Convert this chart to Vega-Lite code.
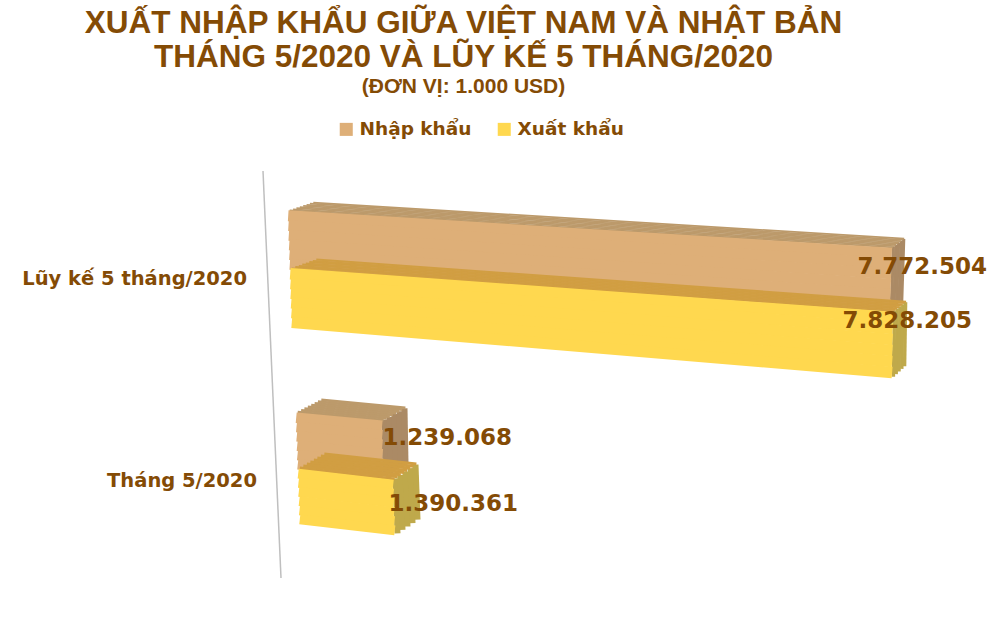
{
  "$schema": "https://vega.github.io/schema/vega-lite/v6.json",
  "width": 991,
  "height": 641,
  "padding": 0,
  "autosize": "none",
  "background": "white",
  "title": {
    "text": ["XUẤT NHẬP KHẨU GIỮA VIỆT NAM VÀ NHẬT BẢN", "THÁNG 5/2020 VÀ LŨY KẾ 5 THÁNG/2020"],
    "subtitle": "(ĐƠN VỊ: 1.000 USD)",
    "anchor": "middle",
    "frame": "group",
    "dx": -32,
    "dy": 101,
    "font": "Liberation Sans",
    "fontSize": 31.5,
    "fontWeight": "bold",
    "color": "#844B05",
    "lineHeight": 34,
    "subtitleFont": "Liberation Sans",
    "subtitleFontSize": 21,
    "subtitleFontWeight": "bold",
    "subtitleColor": "#844B05"
  },
  "data": {
    "values": [
      {"period": "Lũy kế 5 tháng/2020", "series": "Nhập khẩu", "value": 7772504},
      {"period": "Lũy kế 5 tháng/2020", "series": "Xuất khẩu", "value": 7828205},
      {"period": "Tháng 5/2020", "series": "Nhập khẩu", "value": 1239068},
      {"period": "Tháng 5/2020", "series": "Xuất khẩu", "value": 1390361}
    ]
  },
  "resolve": {"scale": {"x": "independent", "y": "independent"}},
  "config": {
    "view": {"stroke": null},
    "locale": {"number": {"decimal": ",", "thousands": ".", "grouping": [3], "currency": ["", ""]}}
  },
  "layer": [
    {
      "transform": [{"filter": "datum.period == 'Tháng 5/2020' && datum.series == 'Nhập khẩu'"}],
      "mark": {"type": "rule", "stroke": "#BFBFBF", "strokeWidth": 1.5},
      "encoding": {
        "x": {"datum": 0, "type": "quantitative", "scale": {"domain": [0, 1], "range": [263, 281], "nice": false}, "axis": null},
        "x2": {"datum": 1},
        "y": {"datum": 0, "type": "quantitative", "scale": {"domain": [0, 1], "range": [171, 578], "nice": false}, "axis": null},
        "y2": {"datum": 1}
      }
    },
    {
      "mark": {"type": "square", "opacity": 0},
      "encoding": {
        "fill": {
          "field": "series",
          "type": "nominal",
          "scale": {"domain": ["Nhập khẩu", "Xuất khẩu"], "range": ["#DEAF78", "#FFD84F"]},
          "legend": {
            "title": null,
            "orient": "none",
            "legendX": 337,
            "legendY": 120,
            "direction": "horizontal",
            "symbolType": "square",
            "symbolSize": 170,
            "symbolOpacity": 1,
            "symbolStrokeWidth": 0,
            "labelFont": "DejaVu Sans",
            "labelFontSize": 18.5,
            "labelFontWeight": "bold",
            "labelColor": "#844B05",
            "columnPadding": 23
          }
        }
      }
    },
    {
      "transform": [{"filter": "datum.period == 'Lũy kế 5 tháng/2020' && datum.series == 'Nhập khẩu'"}],
      "encoding": {
        "x": {"field": "value", "type": "quantitative", "scale": {"domain": [0, 7772504], "range": [288, 892], "nice": false}, "axis": null},
        "y": {"field": "value", "type": "quantitative", "scale": {"domain": [0, 7772504], "range": [240, 279], "nice": false}, "axis": null}
      },
      "layer": [
        {
          "encoding": {"x2": {"field": "value"}, "y2": {"field": "value"}},
          "layer": [
            {"mark": {"type": "rule", "stroke": "#AB8A65", "strokeWidth": 3.2, "xOffset": 1.3, "x2Offset": -0.7, "yOffset": -32, "y2Offset": 30}},
            {"mark": {"type": "rule", "stroke": "#AB8A65", "strokeWidth": 3.2, "xOffset": 3.9, "x2Offset": 1.9, "yOffset": -34, "y2Offset": 28}},
            {"mark": {"type": "rule", "stroke": "#AB8A65", "strokeWidth": 3.2, "xOffset": 6.5, "x2Offset": 4.5, "yOffset": -36, "y2Offset": 26}},
            {"mark": {"type": "rule", "stroke": "#AB8A65", "strokeWidth": 3.2, "xOffset": 9.1, "x2Offset": 7.1, "yOffset": -38, "y2Offset": 24}},
            {"mark": {"type": "rule", "stroke": "#AB8A65", "strokeWidth": 3.2, "xOffset": 11.7, "x2Offset": 9.7, "yOffset": -40, "y2Offset": 22}}
          ]
        },
        {
          "encoding": {"x2": {"datum": 0}, "y2": {"datum": 0}},
          "layer": [
            {"mark": {"type": "rule", "stroke": "#BC9A6B", "strokeWidth": 1.8, "xOffset": 0.8, "x2Offset": 1.7, "yOffset": -31.6, "y2Offset": -29.6}},
            {"mark": {"type": "rule", "stroke": "#BC9A6B", "strokeWidth": 1.8, "xOffset": 2.4, "x2Offset": 5.1, "yOffset": -32.9, "y2Offset": -30.7}},
            {"mark": {"type": "rule", "stroke": "#BC9A6B", "strokeWidth": 1.8, "xOffset": 4.1, "x2Offset": 8.4, "yOffset": -34.1, "y2Offset": -31.8}},
            {"mark": {"type": "rule", "stroke": "#BC9A6B", "strokeWidth": 1.8, "xOffset": 5.7, "x2Offset": 11.8, "yOffset": -35.4, "y2Offset": -32.9}},
            {"mark": {"type": "rule", "stroke": "#BC9A6B", "strokeWidth": 1.8, "xOffset": 7.3, "x2Offset": 15.2, "yOffset": -36.6, "y2Offset": -34.1}},
            {"mark": {"type": "rule", "stroke": "#BC9A6B", "strokeWidth": 1.8, "xOffset": 8.9, "x2Offset": 18.6, "yOffset": -37.9, "y2Offset": -35.2}},
            {"mark": {"type": "rule", "stroke": "#BC9A6B", "strokeWidth": 1.8, "xOffset": 10.6, "x2Offset": 21.9, "yOffset": -39.1, "y2Offset": -36.3}},
            {"mark": {"type": "rule", "stroke": "#BC9A6B", "strokeWidth": 1.8, "xOffset": 12.2, "x2Offset": 25.3, "yOffset": -40.4, "y2Offset": -37.4}},
            {"mark": {"type": "rule", "stroke": "#DEAF78", "strokeWidth": 11, "xOffset": -0.2, "x2Offset": 0.2, "yOffset": -25.8, "y2Offset": -24.2}},
            {"mark": {"type": "rule", "stroke": "#DEAF78", "strokeWidth": 11, "xOffset": -0.5, "x2Offset": 0.5, "yOffset": -15.5, "y2Offset": -14.5}},
            {"mark": {"type": "rule", "stroke": "#DEAF78", "strokeWidth": 11, "xOffset": -0.8, "x2Offset": 0.8, "yOffset": -5.2, "y2Offset": -4.8}},
            {"mark": {"type": "rule", "stroke": "#DEAF78", "strokeWidth": 11, "xOffset": -1.2, "x2Offset": 1.2, "yOffset": 5.2, "y2Offset": 4.8}},
            {"mark": {"type": "rule", "stroke": "#DEAF78", "strokeWidth": 11, "xOffset": -1.5, "x2Offset": 1.5, "yOffset": 15.5, "y2Offset": 14.5}},
            {"mark": {"type": "rule", "stroke": "#DEAF78", "strokeWidth": 11, "xOffset": -1.8, "x2Offset": 1.8, "yOffset": 25.8, "y2Offset": 24.2}}
          ]
        }
      ]
    },
    {
      "transform": [{"filter": "datum.period == 'Lũy kế 5 tháng/2020' && datum.series == 'Xuất khẩu'"}],
      "encoding": {
        "x": {"field": "value", "type": "quantitative", "scale": {"domain": [0, 7828205], "range": [290, 893], "nice": false}, "axis": null},
        "y": {"field": "value", "type": "quantitative", "scale": {"domain": [0, 7828205], "range": [298, 345], "nice": false}, "axis": null}
      },
      "layer": [
        {
          "encoding": {"x2": {"field": "value"}, "y2": {"field": "value"}},
          "layer": [
            {"mark": {"type": "rule", "stroke": "#BFA94B", "strokeWidth": 3.4, "xOffset": 1.4, "x2Offset": 0.4, "yOffset": -34.1, "y2Offset": 31.7}},
            {"mark": {"type": "rule", "stroke": "#BFA94B", "strokeWidth": 3.4, "xOffset": 4.2, "x2Offset": 3.2, "yOffset": -36.3, "y2Offset": 29.1}},
            {"mark": {"type": "rule", "stroke": "#BFA94B", "strokeWidth": 3.4, "xOffset": 7, "x2Offset": 6, "yOffset": -38.5, "y2Offset": 26.5}},
            {"mark": {"type": "rule", "stroke": "#BFA94B", "strokeWidth": 3.4, "xOffset": 9.8, "x2Offset": 8.8, "yOffset": -40.7, "y2Offset": 23.9}},
            {"mark": {"type": "rule", "stroke": "#BFA94B", "strokeWidth": 3.4, "xOffset": 12.6, "x2Offset": 11.6, "yOffset": -42.9, "y2Offset": 21.3}}
          ]
        },
        {
          "encoding": {"x2": {"datum": 0}, "y2": {"datum": 0}},
          "layer": [
            {"mark": {"type": "rule", "stroke": "#D19E42", "strokeWidth": 2, "xOffset": 0.9, "x2Offset": 1.8, "yOffset": -33.7, "y2Offset": -29.6}},
            {"mark": {"type": "rule", "stroke": "#D19E42", "strokeWidth": 2, "xOffset": 2.6, "x2Offset": 5.3, "yOffset": -35.1, "y2Offset": -30.9}},
            {"mark": {"type": "rule", "stroke": "#D19E42", "strokeWidth": 2, "xOffset": 4.4, "x2Offset": 8.8, "yOffset": -36.4, "y2Offset": -32.1}},
            {"mark": {"type": "rule", "stroke": "#D19E42", "strokeWidth": 2, "xOffset": 6.1, "x2Offset": 12.3, "yOffset": -37.8, "y2Offset": -33.4}},
            {"mark": {"type": "rule", "stroke": "#D19E42", "strokeWidth": 2, "xOffset": 7.9, "x2Offset": 15.8, "yOffset": -39.2, "y2Offset": -34.6}},
            {"mark": {"type": "rule", "stroke": "#D19E42", "strokeWidth": 2, "xOffset": 9.6, "x2Offset": 19.3, "yOffset": -40.6, "y2Offset": -35.9}},
            {"mark": {"type": "rule", "stroke": "#D19E42", "strokeWidth": 2, "xOffset": 11.4, "x2Offset": 22.8, "yOffset": -41.9, "y2Offset": -37.1}},
            {"mark": {"type": "rule", "stroke": "#D19E42", "strokeWidth": 2, "xOffset": 13.1, "x2Offset": 26.3, "yOffset": -43.3, "y2Offset": -38.4}},
            {"mark": {"type": "rule", "stroke": "#FFD84F", "strokeWidth": 11.5, "xOffset": -0.1, "x2Offset": 0.2, "yOffset": -27.5, "y2Offset": -24.2}},
            {"mark": {"type": "rule", "stroke": "#FFD84F", "strokeWidth": 11.5, "xOffset": -0.3, "x2Offset": 0.5, "yOffset": -16.5, "y2Offset": -14.5}},
            {"mark": {"type": "rule", "stroke": "#FFD84F", "strokeWidth": 11.5, "xOffset": -0.4, "x2Offset": 0.8, "yOffset": -5.5, "y2Offset": -4.8}},
            {"mark": {"type": "rule", "stroke": "#FFD84F", "strokeWidth": 11.5, "xOffset": -0.6, "x2Offset": 1.2, "yOffset": 5.5, "y2Offset": 4.8}},
            {"mark": {"type": "rule", "stroke": "#FFD84F", "strokeWidth": 11.5, "xOffset": -0.8, "x2Offset": 1.5, "yOffset": 16.5, "y2Offset": 14.5}},
            {"mark": {"type": "rule", "stroke": "#FFD84F", "strokeWidth": 11.5, "xOffset": -0.9, "x2Offset": 1.8, "yOffset": 27.5, "y2Offset": 24.2}}
          ]
        }
      ]
    },
    {
      "transform": [{"filter": "datum.period == 'Tháng 5/2020' && datum.series == 'Nhập khẩu'"}],
      "encoding": {
        "x": {"field": "value", "type": "quantitative", "scale": {"domain": [0, 1239068], "range": [296, 382], "nice": false}, "axis": null},
        "y": {"field": "value", "type": "quantitative", "scale": {"domain": [0, 1239068], "range": [441, 449.5], "nice": false}, "axis": null}
      },
      "layer": [
        {
          "encoding": {"x2": {"field": "value"}, "y2": {"field": "value"}},
          "layer": [
            {"mark": {"type": "rule", "stroke": "#AB8A65", "strokeWidth": 6, "xOffset": 2.5, "x2Offset": 3.5, "yOffset": -29.9, "y2Offset": 26.9}},
            {"mark": {"type": "rule", "stroke": "#AB8A65", "strokeWidth": 6, "xOffset": 7.5, "x2Offset": 8.5, "yOffset": -32.7, "y2Offset": 23.7}},
            {"mark": {"type": "rule", "stroke": "#AB8A65", "strokeWidth": 6, "xOffset": 12.5, "x2Offset": 13.5, "yOffset": -35.5, "y2Offset": 20.5}},
            {"mark": {"type": "rule", "stroke": "#AB8A65", "strokeWidth": 6, "xOffset": 17.5, "x2Offset": 18.5, "yOffset": -38.3, "y2Offset": 17.3}},
            {"mark": {"type": "rule", "stroke": "#AB8A65", "strokeWidth": 6, "xOffset": 22.5, "x2Offset": 23.5, "yOffset": -41.1, "y2Offset": 14.1}}
          ]
        },
        {
          "encoding": {"x2": {"datum": 0}, "y2": {"datum": 0}},
          "layer": [
            {"mark": {"type": "rule", "stroke": "#BC9A6B", "strokeWidth": 2.6, "xOffset": 1.6, "x2Offset": 1.7, "yOffset": -29.4, "y2Offset": -28.9}},
            {"mark": {"type": "rule", "stroke": "#BC9A6B", "strokeWidth": 2.6, "xOffset": 4.7, "x2Offset": 5.1, "yOffset": -31.1, "y2Offset": -30.6}},
            {"mark": {"type": "rule", "stroke": "#BC9A6B", "strokeWidth": 2.6, "xOffset": 7.8, "x2Offset": 8.4, "yOffset": -32.9, "y2Offset": -32.4}},
            {"mark": {"type": "rule", "stroke": "#BC9A6B", "strokeWidth": 2.6, "xOffset": 10.9, "x2Offset": 11.8, "yOffset": -34.6, "y2Offset": -34.1}},
            {"mark": {"type": "rule", "stroke": "#BC9A6B", "strokeWidth": 2.6, "xOffset": 14.1, "x2Offset": 15.2, "yOffset": -36.4, "y2Offset": -35.9}},
            {"mark": {"type": "rule", "stroke": "#BC9A6B", "strokeWidth": 2.6, "xOffset": 17.2, "x2Offset": 18.6, "yOffset": -38.1, "y2Offset": -37.6}},
            {"mark": {"type": "rule", "stroke": "#BC9A6B", "strokeWidth": 2.6, "xOffset": 20.3, "x2Offset": 21.9, "yOffset": -39.9, "y2Offset": -39.4}},
            {"mark": {"type": "rule", "stroke": "#BC9A6B", "strokeWidth": 2.6, "xOffset": 23.4, "x2Offset": 25.3, "yOffset": -41.6, "y2Offset": -41.1}},
            {"mark": {"type": "rule", "stroke": "#DEAF78", "strokeWidth": 10.5, "xOffset": 0.1, "x2Offset": 0.2, "yOffset": -23.8, "y2Offset": -23.3}},
            {"mark": {"type": "rule", "stroke": "#DEAF78", "strokeWidth": 10.5, "xOffset": 0.3, "x2Offset": 0.5, "yOffset": -14.3, "y2Offset": -14}},
            {"mark": {"type": "rule", "stroke": "#DEAF78", "strokeWidth": 10.5, "xOffset": 0.4, "x2Offset": 0.8, "yOffset": -4.8, "y2Offset": -4.7}},
            {"mark": {"type": "rule", "stroke": "#DEAF78", "strokeWidth": 10.5, "xOffset": 0.6, "x2Offset": 1.2, "yOffset": 4.8, "y2Offset": 4.7}},
            {"mark": {"type": "rule", "stroke": "#DEAF78", "strokeWidth": 10.5, "xOffset": 0.8, "x2Offset": 1.5, "yOffset": 14.3, "y2Offset": 14}},
            {"mark": {"type": "rule", "stroke": "#DEAF78", "strokeWidth": 10.5, "xOffset": 0.9, "x2Offset": 1.8, "yOffset": 23.8, "y2Offset": 23.3}}
          ]
        }
      ]
    },
    {
      "transform": [{"filter": "datum.period == 'Tháng 5/2020' && datum.series == 'Xuất khẩu'"}],
      "encoding": {
        "x": {"field": "value", "type": "quantitative", "scale": {"domain": [0, 1390361], "range": [298, 393], "nice": false}, "axis": null},
        "y": {"field": "value", "type": "quantitative", "scale": {"domain": [0, 1390361], "range": [496.5, 507.5], "nice": false}, "axis": null}
      },
      "layer": [
        {
          "encoding": {"x2": {"field": "value"}, "y2": {"field": "value"}},
          "layer": [
            {"mark": {"type": "rule", "stroke": "#BFA94B", "strokeWidth": 6, "xOffset": 2.5, "x2Offset": 4.5, "yOffset": -29.2, "y2Offset": 25.8}},
            {"mark": {"type": "rule", "stroke": "#BFA94B", "strokeWidth": 6, "xOffset": 7.5, "x2Offset": 9.5, "yOffset": -32.6, "y2Offset": 22.4}},
            {"mark": {"type": "rule", "stroke": "#BFA94B", "strokeWidth": 6, "xOffset": 12.5, "x2Offset": 14.5, "yOffset": -36, "y2Offset": 19}},
            {"mark": {"type": "rule", "stroke": "#BFA94B", "strokeWidth": 6, "xOffset": 17.5, "x2Offset": 19.5, "yOffset": -39.4, "y2Offset": 15.6}},
            {"mark": {"type": "rule", "stroke": "#BFA94B", "strokeWidth": 6, "xOffset": 22.5, "x2Offset": 24.5, "yOffset": -42.8, "y2Offset": 12.2}}
          ]
        },
        {
          "encoding": {"x2": {"datum": 0}, "y2": {"datum": 0}},
          "layer": [
            {"mark": {"type": "rule", "stroke": "#D19E42", "strokeWidth": 3, "xOffset": 1.6, "x2Offset": 1.8, "yOffset": -28.6, "y2Offset": -28.5}},
            {"mark": {"type": "rule", "stroke": "#D19E42", "strokeWidth": 3, "xOffset": 4.7, "x2Offset": 5.3, "yOffset": -30.7, "y2Offset": -30.5}},
            {"mark": {"type": "rule", "stroke": "#D19E42", "strokeWidth": 3, "xOffset": 7.8, "x2Offset": 8.8, "yOffset": -32.8, "y2Offset": -32.5}},
            {"mark": {"type": "rule", "stroke": "#D19E42", "strokeWidth": 3, "xOffset": 10.9, "x2Offset": 12.3, "yOffset": -34.9, "y2Offset": -34.5}},
            {"mark": {"type": "rule", "stroke": "#D19E42", "strokeWidth": 3, "xOffset": 14.1, "x2Offset": 15.8, "yOffset": -37.1, "y2Offset": -36.5}},
            {"mark": {"type": "rule", "stroke": "#D19E42", "strokeWidth": 3, "xOffset": 17.2, "x2Offset": 19.3, "yOffset": -39.2, "y2Offset": -38.5}},
            {"mark": {"type": "rule", "stroke": "#D19E42", "strokeWidth": 3, "xOffset": 20.3, "x2Offset": 22.8, "yOffset": -41.3, "y2Offset": -40.5}},
            {"mark": {"type": "rule", "stroke": "#D19E42", "strokeWidth": 3, "xOffset": 23.4, "x2Offset": 26.3, "yOffset": -43.4, "y2Offset": -42.5}},
            {"mark": {"type": "rule", "stroke": "#FFD84F", "strokeWidth": 10, "xOffset": 0.2, "x2Offset": 0.2, "yOffset": -22.9, "y2Offset": -22.9}},
            {"mark": {"type": "rule", "stroke": "#FFD84F", "strokeWidth": 10, "xOffset": 0.5, "x2Offset": 0.5, "yOffset": -13.8, "y2Offset": -13.8}},
            {"mark": {"type": "rule", "stroke": "#FFD84F", "strokeWidth": 10, "xOffset": 0.8, "x2Offset": 0.8, "yOffset": -4.6, "y2Offset": -4.6}},
            {"mark": {"type": "rule", "stroke": "#FFD84F", "strokeWidth": 10, "xOffset": 1.2, "x2Offset": 1.2, "yOffset": 4.6, "y2Offset": 4.6}},
            {"mark": {"type": "rule", "stroke": "#FFD84F", "strokeWidth": 10, "xOffset": 1.5, "x2Offset": 1.5, "yOffset": 13.8, "y2Offset": 13.8}},
            {"mark": {"type": "rule", "stroke": "#FFD84F", "strokeWidth": 10, "xOffset": 1.8, "x2Offset": 1.8, "yOffset": 22.9, "y2Offset": 22.9}}
          ]
        }
      ]
    },
    {
      "transform": [{"filter": "datum.period == 'Lũy kế 5 tháng/2020' && datum.series == 'Nhập khẩu'"}],
      "mark": {"type": "text", "font": "DejaVu Sans", "fontWeight": "bold", "fontSize": 23, "color": "#844B05", "align": "right", "baseline": "middle", "xOffset": 95, "yOffset": -12},
      "encoding": {
        "x": {"field": "value", "type": "quantitative", "scale": {"domain": [0, 7772504], "range": [288, 892], "nice": false}, "axis": null},
        "y": {"field": "value", "type": "quantitative", "scale": {"domain": [0, 7772504], "range": [240, 279], "nice": false}, "axis": null},
        "text": {"field": "value", "type": "quantitative", "format": ",d"}
      }
    },
    {
      "transform": [{"filter": "datum.period == 'Lũy kế 5 tháng/2020' && datum.series == 'Xuất khẩu'"}],
      "mark": {"type": "text", "font": "DejaVu Sans", "fontWeight": "bold", "fontSize": 23, "color": "#844B05", "align": "right", "baseline": "middle", "xOffset": 79, "yOffset": -24},
      "encoding": {
        "x": {"field": "value", "type": "quantitative", "scale": {"domain": [0, 7828205], "range": [290, 893], "nice": false}, "axis": null},
        "y": {"field": "value", "type": "quantitative", "scale": {"domain": [0, 7828205], "range": [298, 345], "nice": false}, "axis": null},
        "text": {"field": "value", "type": "quantitative", "format": ",d"}
      }
    },
    {
      "transform": [{"filter": "datum.period == 'Tháng 5/2020' && datum.series == 'Nhập khẩu'"}],
      "mark": {"type": "text", "font": "DejaVu Sans", "fontWeight": "bold", "fontSize": 23, "color": "#844B05", "align": "right", "baseline": "middle", "xOffset": 130, "yOffset": -11.5},
      "encoding": {
        "x": {"field": "value", "type": "quantitative", "scale": {"domain": [0, 1239068], "range": [296, 382], "nice": false}, "axis": null},
        "y": {"field": "value", "type": "quantitative", "scale": {"domain": [0, 1239068], "range": [441, 449.5], "nice": false}, "axis": null},
        "text": {"field": "value", "type": "quantitative", "format": ",d"}
      }
    },
    {
      "transform": [{"filter": "datum.period == 'Tháng 5/2020' && datum.series == 'Xuất khẩu'"}],
      "mark": {"type": "text", "font": "DejaVu Sans", "fontWeight": "bold", "fontSize": 23, "color": "#844B05", "align": "right", "baseline": "middle", "xOffset": 125, "yOffset": -3.5},
      "encoding": {
        "x": {"field": "value", "type": "quantitative", "scale": {"domain": [0, 1390361], "range": [298, 393], "nice": false}, "axis": null},
        "y": {"field": "value", "type": "quantitative", "scale": {"domain": [0, 1390361], "range": [496.5, 507.5], "nice": false}, "axis": null},
        "text": {"field": "value", "type": "quantitative", "format": ",d"}
      }
    },
    {
      "transform": [{"filter": "datum.series == 'Nhập khẩu'"}],
      "mark": {"type": "text", "font": "DejaVu Sans", "fontWeight": "bold", "fontSize": 19.5, "color": "#844B05", "align": "right", "baseline": "middle"},
      "encoding": {
        "x": {"field": "period", "type": "nominal", "scale": {"type": "point", "padding": 0, "domain": ["Lũy kế 5 tháng/2020", "Tháng 5/2020"], "range": [247, 257]}, "axis": null},
        "y": {"field": "period", "type": "nominal", "scale": {"type": "point", "padding": 0, "domain": ["Lũy kế 5 tháng/2020", "Tháng 5/2020"], "range": [279, 481]}, "axis": null},
        "text": {"field": "period"}
      }
    }
  ]
}
